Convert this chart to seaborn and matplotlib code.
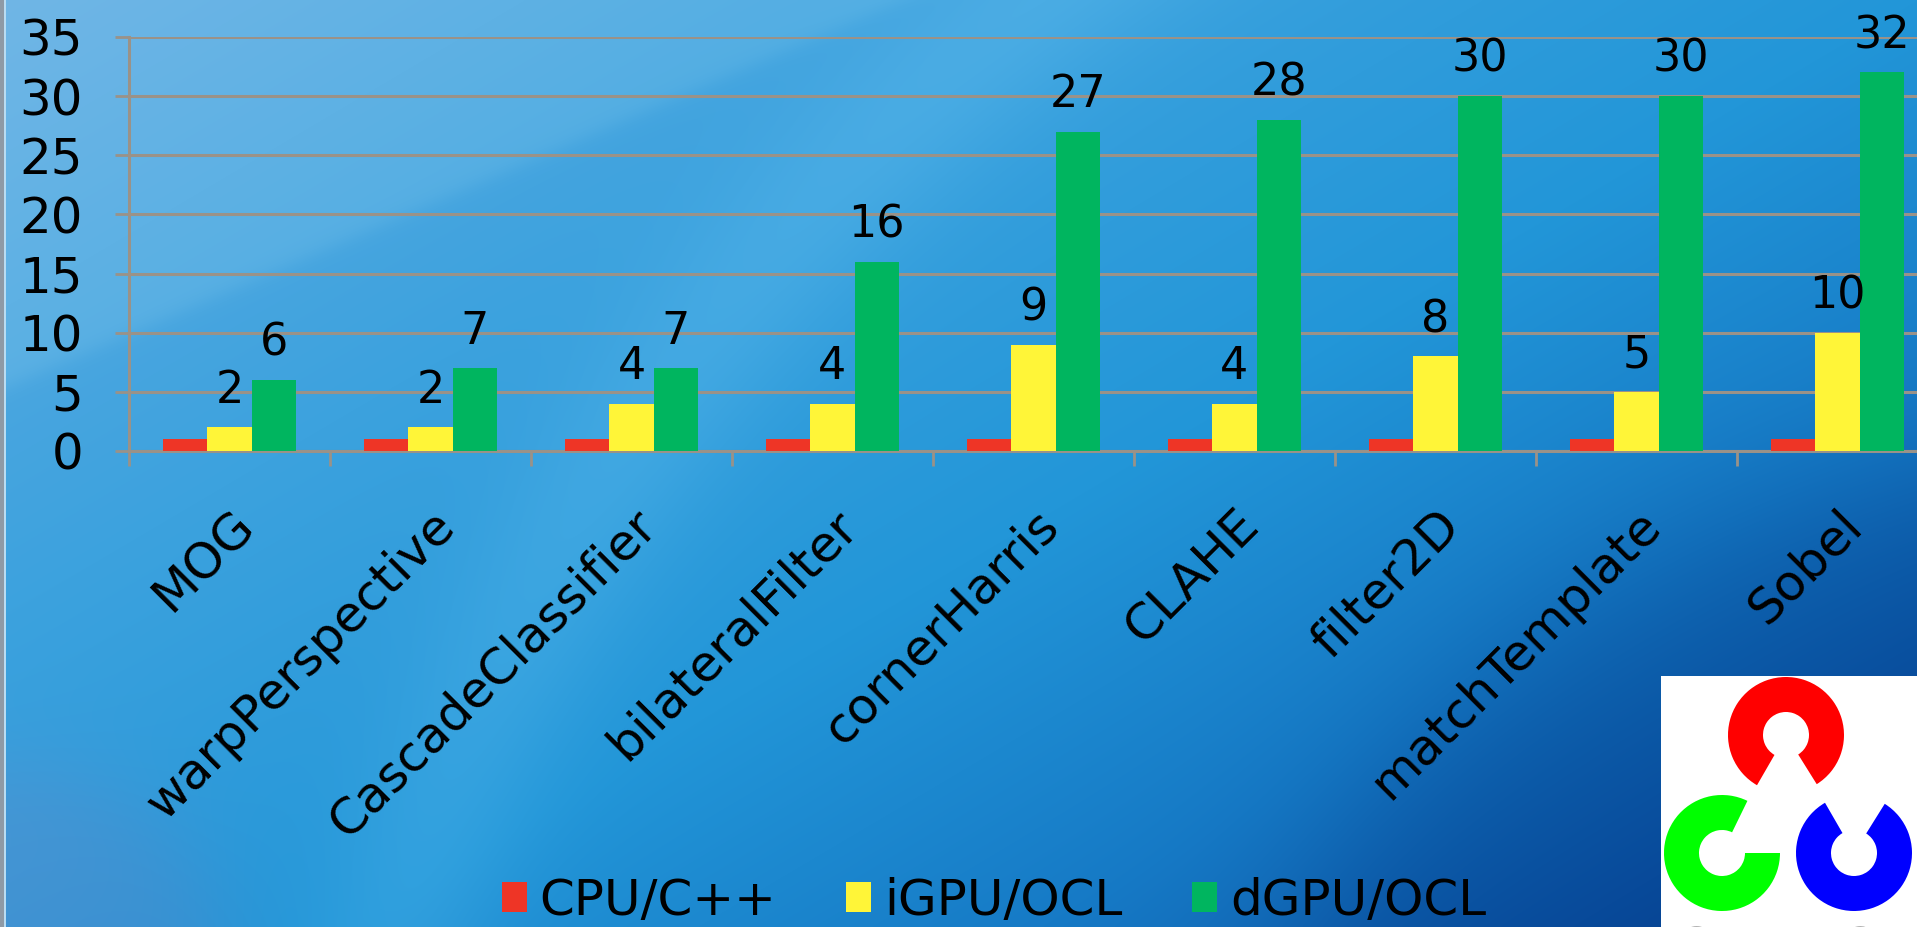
import numpy as np
import pandas as pd
import matplotlib
matplotlib.use("Agg")
import matplotlib.pyplot as plt
import seaborn as sns
from matplotlib.patches import Wedge, Rectangle

# ---------------- data ----------------
categories = ["MOG", "warpPerspective", "CascadeClassifier", "bilateralFilter",
              "cornerHarris", "CLAHE", "filter2D", "matchTemplate", "Sobel"]
series_names = ["CPU/C++", "iGPU/OCL", "dGPU/OCL"]
cpu_values = [1, 1, 1, 1, 1, 1, 1, 1, 1]
igpu_values = [2, 2, 4, 4, 9, 4, 8, 5, 10]
dgpu_values = [6, 7, 7, 16, 27, 28, 30, 30, 32]
y_ticks = [0, 5, 10, 15, 20, 25, 30, 35]
bar_colors = ["#EE3526", "#FFF538", "#00B55F"]

df = pd.DataFrame({
    "Function": categories * 3,
    "Device": [series_names[0]] * 9 + [series_names[1]] * 9 + [series_names[2]] * 9,
    "Speedup": cpu_values + igpu_values + dgpu_values,
})

W, H = 1917, 927
sns.set_theme(style="white")
plt.rcParams["font.family"] = ["DejaVu Sans"]

fig = plt.figure(figsize=(W / 100, H / 100), dpi=100)

# ---------------- background (decorative gradient) ----------------
yy, xx = np.mgrid[0:H:2, 0:W:2].astype(float)
u = xx / W
v = yy / H
t = np.clip(0.55 * u + 0.45 * v, 0, 1)
stops_t = [0.0, 0.3, 0.55, 0.75, 0.9, 1.0]
stops_c = np.array([(96, 172, 226), (60, 162, 222), (34, 150, 216),
                    (22, 122, 198), (16, 96, 176), (12, 80, 158)], float)
img = np.stack([np.interp(t, stops_t, stops_c[:, k]) for k in range(3)], axis=-1)
# light swoosh top-left
m1 = u / 0.47 + v / 0.42
img += (1 / (1 + np.exp((m1 - 1) / 0.015)))[..., None] * np.array([16, 10, 4])
# soft lighter arc band through the middle
r = np.sqrt(((u - 1.25) * 1.9) ** 2 + (v - 1.55) ** 2)
band = np.exp(-((r - 2.05) / 0.09) ** 2)
img += band[..., None] * np.array([14, 10, 6])
# darker bottom-right swirl
r2 = np.sqrt(((u - 1.05) * 1.9) ** 2 + (v - 1.25) ** 2)
dark = 1 / (1 + np.exp((r2 - 0.75) / 0.05))
img -= dark[..., None] * np.array([8, 22, 22])
# slight purple tint bottom-left corner
r3 = np.sqrt(((u - 0.0) * 1.9) ** 2 + (v - 1.05) ** 2)
img += (1 / (1 + np.exp((r3 - 0.22) / 0.03)))[..., None] * np.array([20, -8, -8])
img = np.clip(img, 0, 255) / 255.0

bg = fig.add_axes([0, 0, 1, 1])
bg.imshow(img, extent=[0, W, H, 0], aspect="auto", interpolation="bilinear")
bg.set_xlim(0, W)
bg.set_ylim(H, 0)
bg.axis("off")
fig.patches.append(Rectangle((0, 0), 4 / W, 1, transform=fig.transFigure,
                             facecolor="#8e9aa6", edgecolor="none", zorder=5))
fig.patches.append(Rectangle((4 / W, 0), 1.5 / W, 1, transform=fig.transFigure,
                             facecolor="#b9dcf2", edgecolor="none", zorder=5))

# ---------------- chart ----------------
left_px, right_px, top_px, zero_px = 129, 1938, 37, 451
ax = fig.add_axes([left_px / W, (H - zero_px) / H,
                   (right_px - left_px) / W, (zero_px - top_px) / H])
ax.set_facecolor("none")

sns.barplot(data=df, x="Function", y="Speedup", hue="Device",
            order=categories, hue_order=series_names, palette=bar_colors,
            saturation=1, width=0.66, gap=0, errorbar=None,
            linewidth=0, edgecolor="none", ax=ax, zorder=3)

grid_c = "#9a9288"
ax.set_xlim(-0.5, len(categories) - 0.5)
ax.set_ylim(0, 35)
ax.set_yticks(y_ticks)
ax.yaxis.grid(True, color=grid_c, linewidth=2.2, zorder=0)
ax.xaxis.grid(False)
ax.set_axisbelow(True)
for s in ["top", "right"]:
    ax.spines[s].set_visible(False)
for s in ["left", "bottom"]:
    ax.spines[s].set_color(grid_c)
    ax.spines[s].set_linewidth(2.2)
ax.set_xlabel("")
ax.set_ylabel("")

ax.tick_params(axis="y", which="major", length=10, width=2, color=grid_c,
               labelsize=36, pad=23, labelcolor="black", left=True)
ax.set_xticks(np.arange(len(categories)))
ax.set_xticklabels(categories, rotation=45, ha="right", va="top",
                   rotation_mode="anchor", fontsize=36, color="black")
ax.tick_params(axis="x", which="major", length=0, pad=36, bottom=True)
ax.set_xticks(np.arange(-0.5, len(categories), 1), minor=True)
ax.tick_params(axis="x", which="minor", length=11, width=2, color=grid_c,
               bottom=True)

for cont in ax.containers[1:]:
    ax.bar_label(cont, fmt="%g", padding=11, fontsize=32, color="black")

handles, labels = ax.get_legend_handles_labels()
if ax.get_legend() is not None:
    ax.get_legend().remove()
fig.legend(handles, labels, loc="center", bbox_to_anchor=(994 / W, 0.028),
           ncol=3, frameon=False, fontsize=36, handlelength=0.5,
           handleheight=0.55, handletextpad=0.25, columnspacing=1.4,
           labelcolor="black")

# ---------------- OpenCV logo (decoration) ----------------
lx0, ly0 = 1661, 676
lax = fig.add_axes([lx0 / W, 0, (W - lx0) / W, (H - ly0) / H])
lax.set_xlim(lx0, W)
lax.set_ylim(0, H - ly0)
lax.set_facecolor("white")
lax.set_xticks([])
lax.set_yticks([])
for s in lax.spines.values():
    s.set_visible(False)
R, w = 58, 35
lax.add_patch(Wedge((1786, H - 735), R, -58, 240, width=w, facecolor="#FF0000", edgecolor="none"))
lax.add_patch(Wedge((1722, H - 853), R, 64, 360, width=w, facecolor="#00FF00", edgecolor="none"))
lax.add_patch(Wedge((1854, H - 853), R, 120, 418, width=w, facecolor="#0000FF", edgecolor="none"))
lax.text(1672, -40, "OpenCV", ha="left", va="baseline", fontsize=40,
         fontweight="bold", color="#666666", clip_on=True)

fig.savefig("out.png", dpi=100)
